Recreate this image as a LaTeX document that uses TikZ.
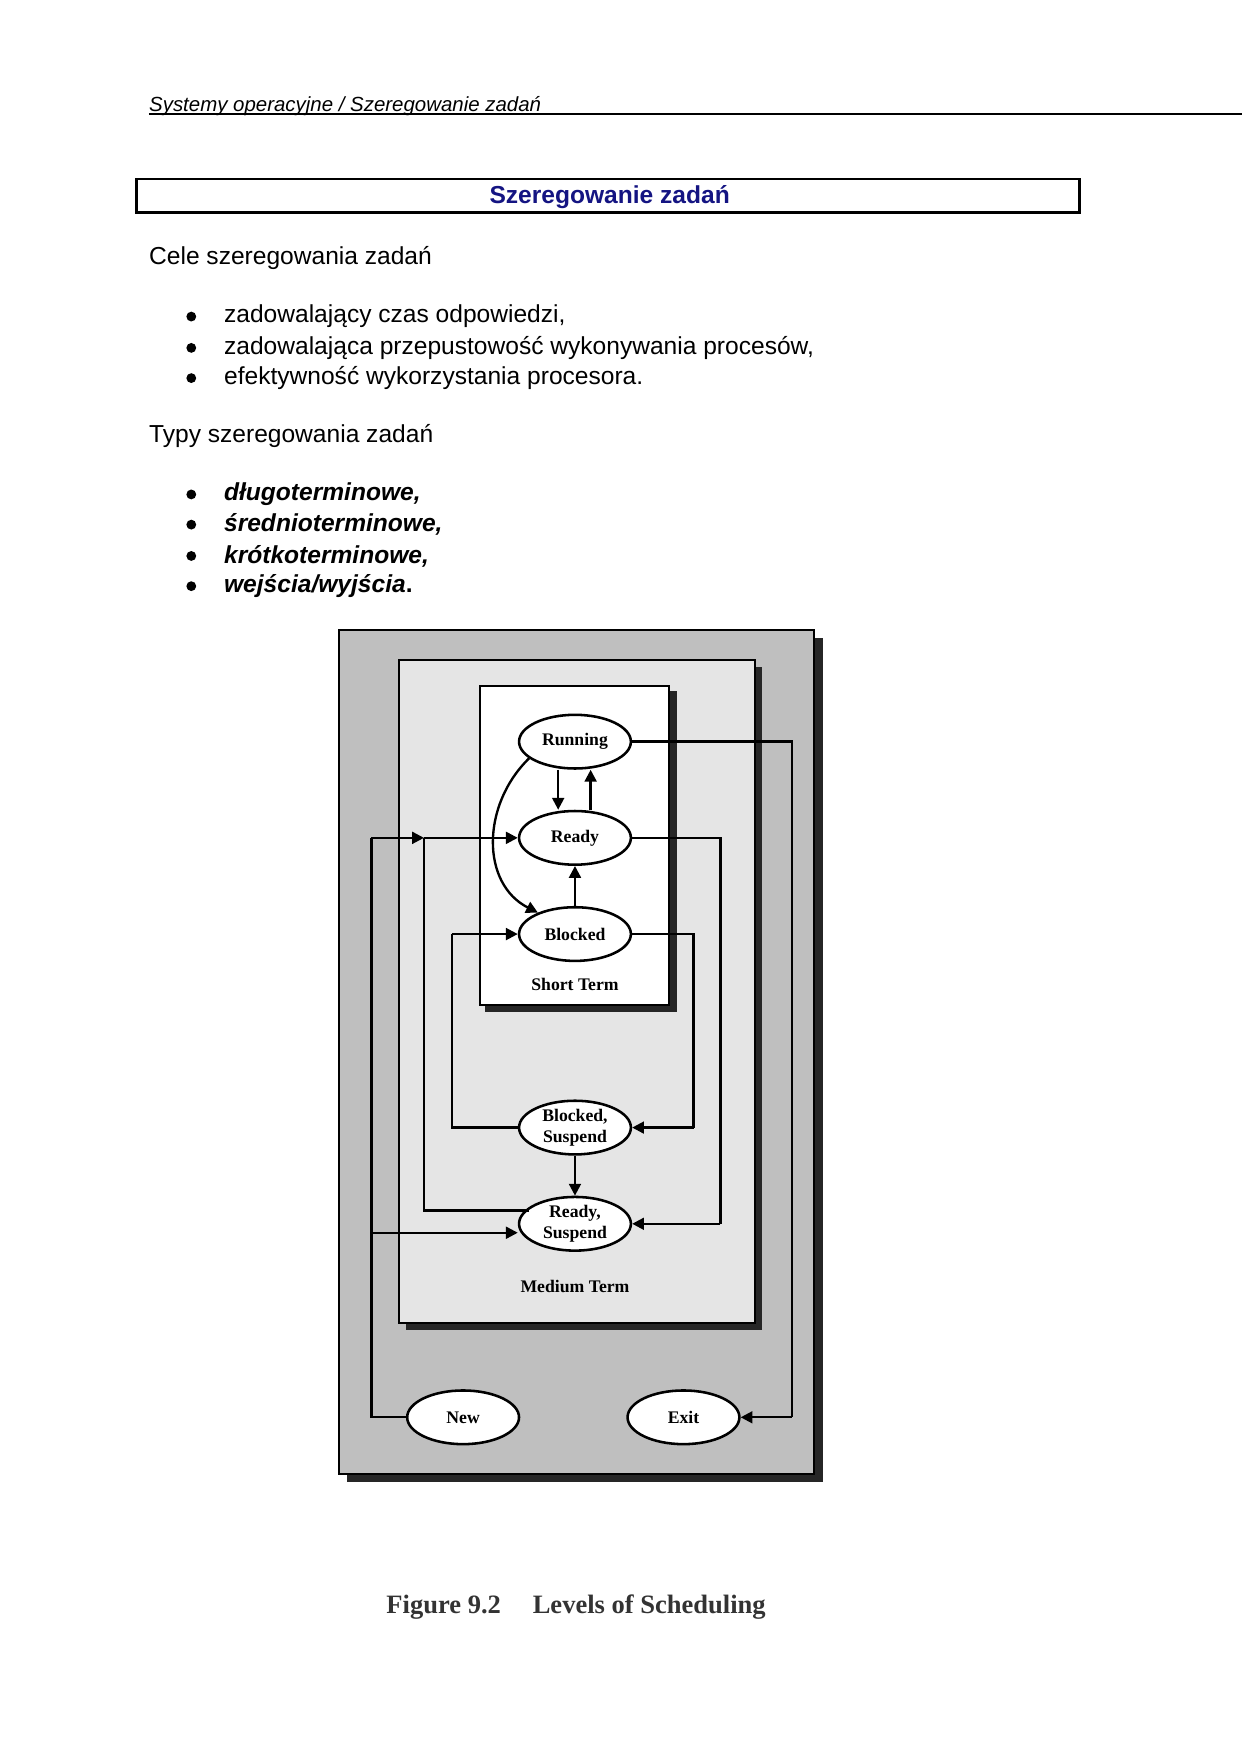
\documentclass[tikz,border=0pt]{standalone}
\usepackage{fontspec}
\setmainfont{Liberation Sans}
\newfontfamily\tms{Liberation Serif}
\usetikzlibrary{shapes.geometric,arrows.meta}
\definecolor{navy}{RGB}{20,20,130}
\begin{document}
\begin{tikzpicture}[x=0.02cm,y=-0.02cm,
  st/.style={ellipse,draw,line width=1.3pt,fill=white,minimum width=2cm,minimum height=0.96cm,inner sep=0pt,font=\tms\bfseries\fontsize{9}{10.5}\selectfont,align=center},
  ar/.style={line width=1.2pt,-{Triangle[length=6pt,width=6pt]}},
  ln/.style={line width=1.2pt},
  body/.style={anchor=west,font=\fontsize{12.5}{14}\selectfont},
  bi/.style={anchor=west,font=\bfseries\itshape\fontsize{12.5}{14}\selectfont},
  bul/.style={circle,fill=black,inner sep=0pt,minimum size=5pt}]
\useasboundingbox (0,0) rectangle (1110,1568);
% header
\node[anchor=base west,inner sep=0pt,font=\itshape\fontsize{10.4}{12}\selectfont] (hdr) at (133,100) {Systemy operacyjne / Szeregowanie zadań};
\draw[line width=0.8pt] (133,102) -- (1110,102);
% title
\draw[line width=1.5pt] (122,160) rectangle (965,190);
\node[font=\bfseries\fontsize{12.5}{14}\selectfont,text=navy] (ttl) at (545,176) {Szeregowanie zadań};
\node[body,inner sep=0pt] (c1) at (133,231) {Cele szeregowania zadań};
\foreach \y/\t in {283/{zadowalający czas odpowiedzi,},311/{zadowalająca przepustowość wykonywania procesów,},338/{efektywność wykorzystania procesora.}}{
  \node[bul] at (171,\y) {}; \node[body,inner sep=0pt] at (200,\y) {\t};}
\node[body,inner sep=0pt] (c2) at (133,390) {Typy szeregowania zadań};
\foreach \y/\t in {442/{długoterminowe,},469/{średnioterminowe,},497/{krótkoterminowe,},524/{wejścia/wyjścia\textup{.}}}{
  \node[bul] at (171,\y) {}; \node[bi,inner sep=0pt] at (200,\y) {\t};}
% boxes
\fill[black!85] (310,570) rectangle (736,1325);
\draw[line width=1pt,fill=black!25] (303,563) rectangle (728,1318);
\fill[black!85] (363,596) rectangle (681,1189);
\draw[line width=1pt,fill=black!10] (357,590) rectangle (675,1183);
\fill[black!85] (434,618) rectangle (605,905);
\draw[line width=1pt,fill=white] (429,613) rectangle (598,898);
\node[font=\tms\bfseries\fontsize{9}{9}\selectfont] (stl) at (514,880) {Short Term};
\node[font=\tms\bfseries\fontsize{9}{9}\selectfont] (mtl) at (514,1150) {Medium Term};
% states
\node[st] (run) at (514,663) {Running};
\node[st] (rdy) at (514,749) {Ready};
\node[st] (blk) at (514,835) {Blocked};
\node[st] (bs) at (514,1008) {Blocked,\\Suspend};
\node[st] (rs) at (514,1094) {Ready,\\Suspend};
\node[st] (new) at (414,1267) {New};
\node[st] (ext) at (611,1267) {Exit};
% coordinates
\coordinate (c1a) at (708,663); \coordinate (c1b) at (708,1267);
\coordinate (n1) at (332,1267); \coordinate (n2) at (332,749); \coordinate (n3) at (379,749); \coordinate (n4) at (332,1102);
\coordinate (r1) at (379,1082);
\coordinate (q1) at (644,749); \coordinate (q2) at (644,1094);
\coordinate (b1) at (620,835); \coordinate (b2) at (620,1008);
\coordinate (s1) at (404,1008); \coordinate (s2) at (404,835);
% edges
\draw[ar] ([xshift=-0.3cm]run.south) -- ([xshift=-0.3cm]rdy.north);
\draw[ar] ([xshift=0.28cm]rdy.north) -- ([xshift=0.28cm]run.south);
\draw[ar] (blk) -- (rdy);
\draw[ar] (run.200) .. controls (430,720) and (430,790) .. (blk.150);
\draw[ln] (run.east) -- (c1a) -- (c1b); \draw[ar] (c1b) -- (ext.east);
\draw[ln] (new.west) -- (n1) -- (n2); \draw[ar] (n2) -- (n3);
\draw[ar] (n4) -- (rs.west |- n4);
\draw[ln] (r1 -| rs.160) -- (r1) -- (n3); \draw[ar] (n3) -- (rdy.west);
\draw[ln] (rdy.east) -- (q1) -- (q2); \draw[ar] (q2) -- (rs.east);
\draw[ln] (blk.east) -- (b1) -- (b2); \draw[ar] (b2) -- (bs.east);
\draw[ln] (bs.west) -- (s1) -- (s2); \draw[ar] (s2) -- (blk.west);
\draw[ar] (bs) -- (rs);
% caption
\node[font=\tms\bfseries\fontsize{13.5}{15}\selectfont,text=black!80] (cap) at (515,1437) {Figure 9.2\hspace{1.2em}Levels of Scheduling};
\end{tikzpicture}
\end{document}
